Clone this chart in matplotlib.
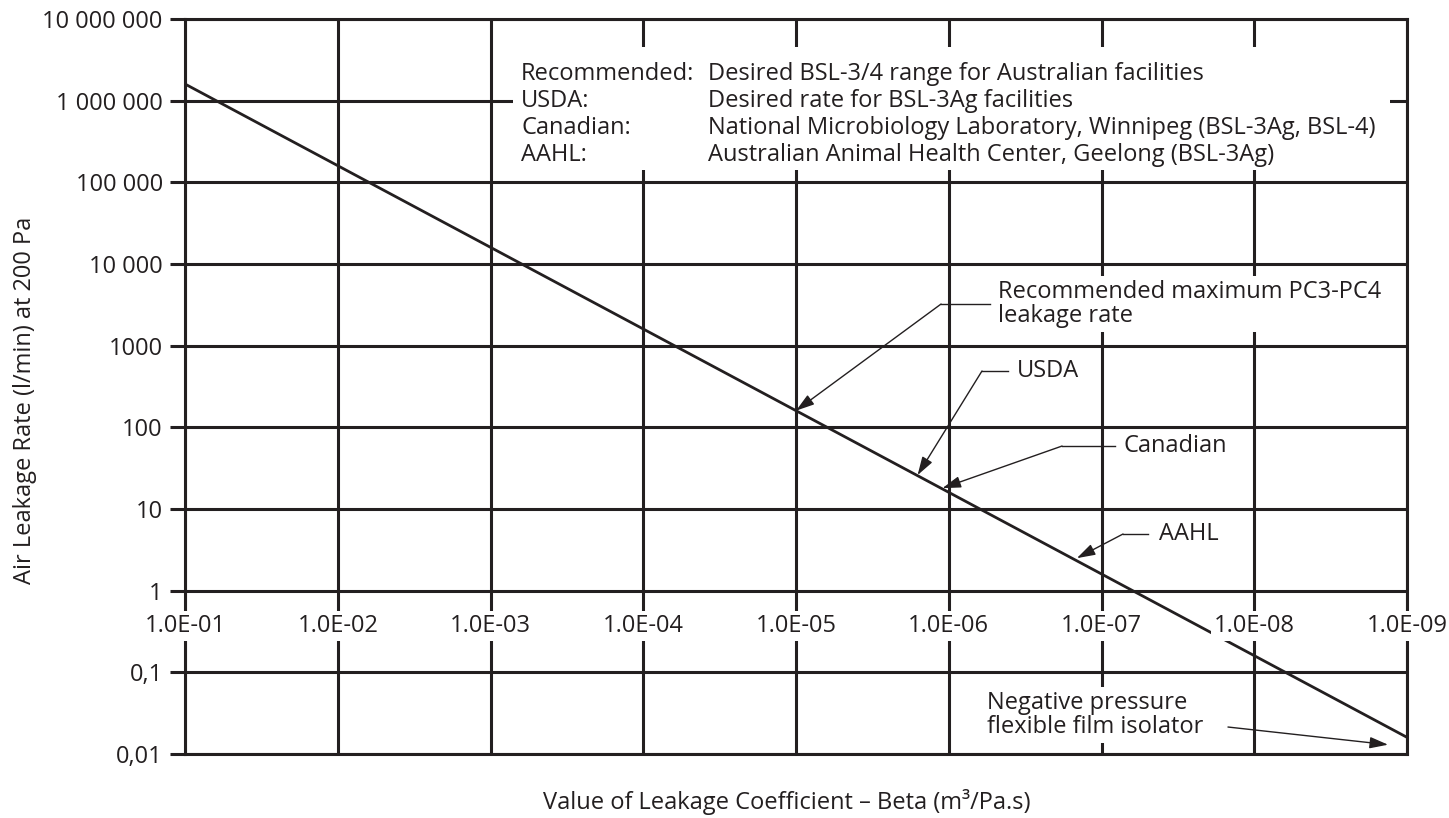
import matplotlib
matplotlib.use("Agg")
import matplotlib.pyplot as plt
from matplotlib.patches import Rectangle
from matplotlib.ticker import NullLocator

plt.rcParams['font.family'] = ['Open Sans', 'DejaVu Sans']

ink = "#231f20"
fs = 17

# leakage line (beta in m3/Pa.s, rate in l/min at 200 Pa)
line_beta = [1e-1, 1e-9]
line_rate = [1.6e6, 0.016]

# axis ticks
x_ticks = [1e-1, 1e-2, 1e-3, 1e-4, 1e-5, 1e-6, 1e-7, 1e-8, 1e-9]
x_labels = ["1.0E-01", "1.0E-02", "1.0E-03", "1.0E-04", "1.0E-05",
            "1.0E-06", "1.0E-07", "1.0E-08", "1.0E-09"]
y_ticks = [1e7, 1e6, 1e5, 1e4, 1e3, 1e2, 1e1, 1, 0.1, 0.01]
y_labels = ["10 000 000", "1 000 000", "100 000", "10 000", "1000",
            "100", "10", "1", "0,1", "0,01"]

# facility points marked on the line
point_names = ["Recommended maximum PC3-PC4\nleakage rate", "USDA", "Canadian", "AAHL"]
point_beta = [1.0e-5, 1.6e-6, 1.1e-6, 1.45e-7]
point_rate = [160, 26, 18, 2.5]

# isolator point
iso_name = "Negative pressure\nflexible film isolator"
iso_beta = 1.33e-9
iso_rate = 0.013

legend_keys = ["Recommended:", "USDA:", "Canadian:", "AAHL:"]
legend_desc = ["Desired BSL-3/4 range for Australian facilities",
               "Desired rate for BSL-3Ag facilities",
               "National Microbiology Laboratory, Winnipeg (BSL-3Ag, BSL-4)",
               "Australian Animal Health Center, Geelong (BSL-3Ag)"]

fig = plt.figure(figsize=(14.49, 8.18), dpi=100)
ax = fig.add_axes([185 / 1449, 1 - 754 / 818, 1222 / 1449, 735 / 818])

ax.set_xscale("log")
ax.set_yscale("log")
ax.set_xlim(1e-1, 1e-9)
ax.set_ylim(0.01, 1e7)

ax.plot(line_beta, line_rate, color=ink, lw=2.0, zorder=2, solid_capstyle="butt")

ax.set_xticks(x_ticks)
ax.set_yticks(y_ticks)
ax.set_yticklabels(y_labels)
ax.xaxis.set_minor_locator(NullLocator())
ax.yaxis.set_minor_locator(NullLocator())
ax.tick_params(axis="x", bottom=False, labelbottom=False)
ax.tick_params(axis="y", direction="out", length=11, width=2.2, color=ink,
               labelsize=fs, labelcolor=ink, pad=5)
ax.set_axisbelow(True)
ax.grid(True, color=ink, lw=2.2)
for s in ax.spines.values():
    s.set_color(ink)
    s.set_linewidth(2.2)

# x labels sit on the y=1 line with a white box
for xv, lab in zip(x_ticks, x_labels):
    ax.annotate(lab, xy=(xv, 1), xytext=(0, -35), textcoords="offset pixels",
                ha="center", va="center", fontsize=fs, color=ink, zorder=5,
                annotation_clip=False,
                bbox=dict(boxstyle="square,pad=0.12", fc="white", ec="none"))

# legend block
ax.add_patch(Rectangle((0.2684, 0.7946), 0.9861 - 0.2684, 0.9619 - 0.7946,
                       transform=ax.transAxes, fc="white", ec="none", zorder=1.5))
rows_y = [0.9252, 0.8884, 0.8517, 0.8150]
for key, desc, ry in zip(legend_keys, legend_desc, rows_y):
    ax.text(0.2750, ry, key, transform=ax.transAxes, ha="left", va="center",
            fontsize=fs, color=ink, zorder=4)
    ax.text(0.4280, ry, desc, transform=ax.transAxes, ha="left", va="center",
            fontsize=fs, color=ink, zorder=4)

# callouts: elbow, end of horizontal leader, text x (axes fraction)
elbows = [(0.6187, 0.6122), (0.6522, 0.5211), (0.7177, 0.4190), (0.7676, 0.2993)]
ends = [0.6588, 0.6735, 0.7610, 0.7880]
text_x = [0.6653, 0.6808, 0.7684, 0.7971]
head = "-|>,head_length=0.8,head_width=0.25"

for i, name in enumerate(point_names):
    ex, ey = elbows[i]
    ax.annotate("", xy=(point_beta[i], point_rate[i]), xytext=(ex, ey),
                textcoords="axes fraction", zorder=4,
                arrowprops=dict(arrowstyle=head, color=ink, lw=1.0,
                                shrinkA=0, shrinkB=0, mutation_scale=14))
    ax.plot([ex, ends[i]], [ey, ey], transform=ax.transAxes, color=ink, lw=1.0, zorder=4)
    bb = None
    if i == 0:
        bb = dict(boxstyle="square,pad=0.15", fc="white", ec="none")
    ax.text(text_x[i], ey, name, transform=ax.transAxes, ha="left", va="center",
            fontsize=fs, color=ink, linespacing=1.05, zorder=4, bbox=bb)

ax.annotate("", xy=(iso_beta, iso_rate), xytext=(0.8535, 0.0367),
            textcoords="axes fraction", zorder=4, annotation_clip=False,
            arrowprops=dict(arrowstyle=head, color=ink, lw=1.0,
                            shrinkA=0, shrinkB=0, mutation_scale=14))
ax.text(0.8331, 0.0531, iso_name, transform=ax.transAxes, ha="right",
        multialignment="left", va="center", fontsize=fs, color=ink,
        linespacing=1.05, zorder=4,
        bbox=dict(boxstyle="square,pad=0.15", fc="white", ec="none"))

fig.text(25 / 1449, 1 - 400 / 818, "Air Leakage Rate (l/min) at 200 Pa",
         rotation=90, ha="center", va="center", fontsize=fs, color=ink)
fig.text(787 / 1449, 1 - 802 / 818, "Value of Leakage Coefficient \u2013 Beta (m\u00b3/Pa.s)",
         ha="center", va="center", fontsize=fs, color=ink)

fig.savefig("out.png", dpi=100, facecolor="white")
